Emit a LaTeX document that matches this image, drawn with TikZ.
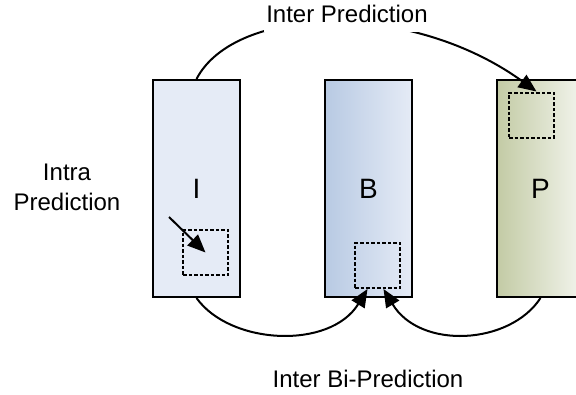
\documentclass[tikz,border=0pt]{standalone}
\usepackage{fontspec}
\setmainfont{Liberation Sans}
\usetikzlibrary{arrows.meta}
\definecolor{iblue}{HTML}{E5EBF6}
\definecolor{bblue}{HTML}{B8CAE3}
\definecolor{pgreen}{HTML}{C3CBA5}
\definecolor{pwhite}{HTML}{F3F5EE}
\tikzset{
  frame/.style={draw=black, line width=2pt, minimum width=87pt, minimum height=217pt, inner sep=0pt, font=\fontsize{28}{34}\selectfont},
  blk/.style={draw=black, line width=2pt, dash pattern=on 3.5pt off 2pt, minimum size=45pt, inner sep=0pt},
  lbl/.style={font=\fontsize{24}{30}\selectfont, align=center, inner sep=0pt},
  conn/.style={line width=2pt, -{Triangle[length=18pt,width=15pt]}},
}
\begin{document}
\begin{tikzpicture}[x=1pt,y=-1pt]
\useasboundingbox (0,0) rectangle (576,394);
\clip (0,0) rectangle (576,394);
\node[frame, fill=iblue] (Ibox) at (196.5,188.5) {I};
\node[frame, left color=bblue, right color=iblue] (Bbox) at (368.5,188.5) {B};
\node[frame, left color=pgreen, right color=pwhite] (Pbox) at (540.5,188.5) {P};
\node[blk] (Isq) at (205.5,252.5) {};
\node[blk] (Bsq) at (377.5,265.5) {};
\node[blk] (Psq) at (531.5,115) {};
\coordinate (ia) at (169,217);
% inter prediction arc
\draw[conn] (Ibox.north) .. controls (235,5) and (410,0) .. ([xshift=5pt]Psq.north);
\node[lbl, fill=white, anchor=base, inner xsep=2pt, text height=20pt, text depth=10pt] (inter) at (347,22) {Inter Prediction};
% intra
\draw[conn] (ia) -- (Isq.center);
\node[lbl] (intra) at (67,187.4) {Intra\\Prediction};
% bi-prediction
\draw[conn] (Ibox.south) .. controls (230,345) and (330,350) .. ([xshift=-10pt]Bsq.south);
\draw[conn] (Pbox.south) .. controls (510,345) and (420,350) .. ([xshift=6pt]Bsq.south);
\node[lbl, anchor=base] (bi) at (368,387) {Inter Bi-Prediction};
\end{tikzpicture}
\end{document}
